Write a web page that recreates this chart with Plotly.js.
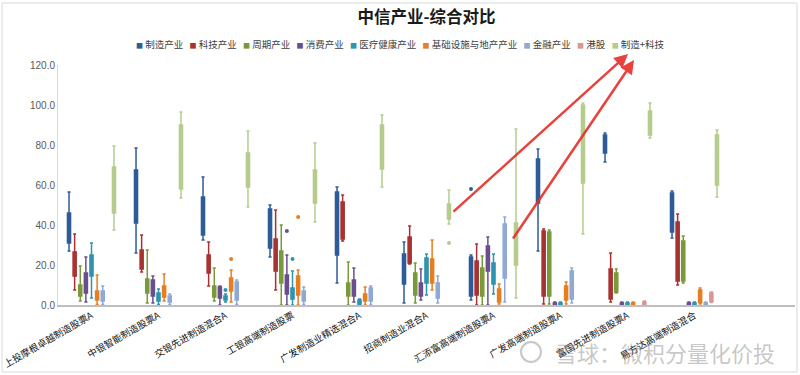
<!DOCTYPE html>
<html>
<head>
<meta charset="utf-8">
<script src="https://cdn.plot.ly/plotly-3.0.1.min.js"></script>
<style>html,body{margin:0;padding:0;background:#fff;}</style>
</head>
<body>
<div id="chart" style="width:800px;height:375px;"></div>
<script>
// Categories (funds)
const funds = [
  '上投摩根卓越制造股票A', '中银智能制造股票A', '交银先进制造混合A', '工银高端制造股票',
  '广发制造业精选混合A', '招商制造业混合A', '汇添富高端制造股票A', '广发高端制造股票A',
  '富国先进制造股票A', '易方达高端制造混合'
];
// Series (industries)
const seriesNames = ['制造产业', '科技产业', '周期产业', '消费产业', '医疗健康产业',
  '基础设施与地产产业', '金融产业', '港股', '制造+科技'];
const seriesColors = ['#2E5C98', '#A83232', '#7A9A3A', '#6B4E8E', '#2E94B0',
  '#E67E22', '#8EA9D6', '#D99694', '#B5CC8E'];

// Box statistics: one row per series, one column per fund (null = not drawn)
const lowerFence = [
  [27, 26, 32.5, 24, 11, 1, 2.5, 27, 71.5, 33.5],
  [7.5, 16.5, 9.5, 7.5, 32, 20.5, 0, 0.5, 1.5, 10],
  [2, 1, 2, 0, 0, 1, 0, 0.5, 6, 11],
  [1.5, 1, 0, 0, 1.5, 2.5, 0, 0, 0, 0],
  [3.5, 0.3, 1.5, 0, 0, 5, 5.5, 0, 0, 0],
  [0.3, 2, 1.5, 0, 0, 7.5, 0.5, 0.5, 0, 0.5],
  [0.2, 0.3, 0.3, 0.3, 0.3, 1, 1.5, 1, null, 0],
  [null, null, null, null, null, null, null, null, 0, 1.3],
  [37.5, 53.5, 49, 41.5, 59, 40.5, 3.5, 35.5, 83.5, 54]
];
const q1 = [
  [31, 41, 35, 28.5, 25, 10.5, 4.5, 51, 76, 36.5],
  [14.5, 18, 16, 17, 33, 21, 5, 4.5, 3, 12],
  [4.5, 6, 4, 11, 4.5, 5, 4.5, 4.5, 6.5, 12],
  [6, 4.5, 3.5, 5.5, 4.5, 4.5, 17, 0.2, 0.2, 0.2],
  [14.5, 2, 2.5, 3, 0.3, 11, 10.5, 0.2, 0.2, 0.2],
  [2.5, 4, 7, 5, 2, 11, 1.5, 2.5, 0.2, 1.3],
  [2, 1.5, 2.5, 2, 2, 3.5, 13.5, 3, null, 0.2],
  [null, null, null, null, null, null, null, null, 0.3, 1.8],
  [46, 58, 59, 51, 68, 43, 20, 61, 85, 60]
];
const median = [
  [37, 51.5, 45, 37, 37.5, 18, 18, 60, 78.5, 46.5],
  [19.5, 21, 19.5, 21, 41.5, 27, 11.5, 23, 10, 25.5],
  [6.5, 8.5, 6, 17.5, 7.5, 9, 11, 22, 11, 20],
  [10, 8, 6, 10, 8, 8, 21.5, 0.5, 0.5, 0.5],
  [19, 3.5, 3.5, 5, 1, 16.5, 15, 0.5, 0.5, 0.5],
  [4.5, 6, 10, 9.5, 4, 16, 4, 5, 0.5, 3.5],
  [4, 2.5, 6, 4.5, 4.5, 7, 22, 8, null, 0.5],
  [null, null, null, null, null, null, null, null, 0.8, 4],
  [58.5, 74, 66, 58.5, 80, 45.5, 27, 80.5, 90, 75]
];
const q3 = [
  [46, 67.5, 54, 48, 56.5, 25.5, 24, 73, 85, 56],
  [26.5, 27.5, 25, 33, 51.5, 34, 22, 37, 18, 41.5],
  [10, 13, 9.5, 27, 11, 16, 18.5, 36.5, 16, 32],
  [16, 12.5, 9, 15, 12.5, 11, 29.5, 1, 1, 1],
  [25, 6, 4.5, 8.5, 2.5, 23.5, 21, 1, 1, 1],
  [7, 9.5, 13.5, 14.5, 5.5, 23, 8, 9.5, 1, 7.5],
  [7, 4.5, 11.5, 7, 8.5, 11, 40.5, 17, null, 1],
  [null, null, null, null, null, null, null, null, 1.5, 6],
  [69, 90, 76, 67.5, 90, 50.5, 41, 100, 97, 85]
];
const upperFence = [
  [56.5, 78.5, 64, 50, 59, 31.5, 25, 78, 86, 57],
  [35.5, 35, 31.5, 47.5, 55, 39.5, 30.5, 38, 26, 45.5],
  [19.5, 27.5, 18.5, 40, 21.5, 21, 24.5, 37.5, 18, 34.5],
  [24, 14.5, 9.5, 25, 18.5, 18, 34, 1.5, 1.5, 1.5],
  [31, 8, 5.5, 17, 3, 25.5, 25.5, 1.5, 1.5, 1.5],
  [15, 15.5, 17.5, 17.5, 9, 32.5, 10.5, 11.5, 1.5, 8.5],
  [9.5, 5.5, 12.5, 9, 9.5, 14.5, 44, 18.5, null, 1.5],
  [null, null, null, null, null, null, null, null, 2, 6.5],
  [79.5, 96.5, 87, 81, 95, 57.5, 88, 101, 101, 87.5]
];
// Outlier points (null = none)
const outliers = [
  [null, null, null, null, null, null, 58, null, null, null],
  [null, null, null, null, null, null, null, null, null, null],
  [null, null, null, null, null, null, null, null, null, null],
  [null, null, null, 37, null, null, null, null, null, null],
  [null, null, 7.5, 23, null, null, null, null, null, null],
  [null, null, 23, 44, null, null, null, null, null, null],
  [null, null, null, null, null, null, null, null, null, null],
  [null, null, null, null, null, null, null, null, null, null],
  [null, null, null, null, null, 31, null, null, null, null]
];

const traces = [];
seriesNames.forEach((name, s) => {
  const idx = funds.map((_, i) => i).filter(i => median[s][i] !== null);
  const pick = arr => idx.map(i => arr[s][i]);
  traces.push({
    type: 'box',
    name: name,
    x: idx.map(i => funds[i]),
    q1: pick(q1),
    median: pick(median),
    q3: pick(q3),
    lowerfence: pick(lowerFence),
    upperfence: pick(upperFence),
    boxpoints: false,
    whiskerwidth: 1,
    line: {color: seriesColors[s], width: 1.5},
    fillcolor: seriesColors[s],
    marker: {color: seriesColors[s]},
    hoverinfo: 'skip'
  });
});
seriesNames.forEach((name, s) => {
  traces.push({
    type: 'scatter',
    mode: 'markers',
    name: name,
    x: funds,
    y: outliers[s],
    marker: {color: seriesColors[s], size: 4},
    hoverinfo: 'skip'
  });
});

const W = 800, H = 375, L = 58, R = 5, T = 65, B = 70;
const pw = W - L - R, ph = H - T - B;
const px = x => (x - L) / pw;
const py = y => (H - B - y) / ph;

// Legend drawn as one line of rich text: coloured square + name
const nb = '\u00a0';
const legendText = seriesNames.map((n, s) =>
  '<span style="color:' + seriesColors[s] + ';font-size:7px">■</span>' + nb + n
).join(nb + nb + nb);

const layout = {
  width: W, height: H,
  margin: {l: L, r: R, t: T, b: B},
  paper_bgcolor: '#ffffff',
  plot_bgcolor: '#ffffff',
  font: {family: '"Noto Sans CJK SC", "Liberation Sans", sans-serif', color: '#404040'},
  title: {
    text: '中信产业-综合对比',
    x: 0.5, xanchor: 'center', xref: 'paper',
    y: 1 - 17 / H, yanchor: 'middle', yref: 'container',
    font: {size: 16.5, color: '#1a1a1a', weight: 'bold'}
  },
  showlegend: false,
  boxmode: 'group',
  boxgap: 0.245,
  boxgroupgap: 0.45,
  scattermode: 'group',
  scattergap: 0.245,
  xaxis: {
    type: 'category',
    categoryorder: 'array', categoryarray: funds,
    range: [-0.5, 10.5],
    tickangle: -30,
    showline: true, linecolor: '#BFBFBF', linewidth: 1.5,
    ticks: '', showgrid: false, zeroline: false,
    tickfont: {size: 9.5, color: '#111111'}
  },
  yaxis: {
    range: [0, 120], dtick: 20, tickformat: '.1f',
    showline: true, linecolor: '#D9D9D9', linewidth: 1,
    ticks: '', showgrid: false, zeroline: false,
    tickfont: {size: 10, color: '#595959', family: '"Liberation Sans", Arial, sans-serif'}
  },
  annotations: [
    {xref: 'paper', yref: 'paper', x: px(400), y: py(44), xanchor: 'center', yanchor: 'middle',
     text: legendText, showarrow: false, font: {size: 9.5, color: '#404040'}},
    {xref: 'paper', yref: 'paper', x: px(628), y: py(54), ax: 452 - 628, ay: 213 - 54,
     text: '', showarrow: true, arrowhead: 2, arrowsize: 1.1, arrowwidth: 2.5,
     arrowcolor: 'rgba(232,45,40,0.9)'},
    {xref: 'paper', yref: 'paper', x: px(634), y: py(60), ax: 512 - 634, ay: 240 - 60,
     text: '', showarrow: true, arrowhead: 2, arrowsize: 1.1, arrowwidth: 2.5,
     arrowcolor: 'rgba(232,45,40,0.9)'},
    {xref: 'paper', yref: 'paper', x: px(665), y: py(352), xanchor: 'center', yanchor: 'middle',
     text: '雪球：微积分量化价投', showarrow: false,
     font: {size: 22, color: 'rgba(130,130,130,0.45)'}}
  ],
  shapes: [
    {type: 'circle', xref: 'paper', yref: 'paper', x0: px(521), x1: px(541), y0: py(362), y1: py(342),
     line: {color: 'rgba(130,130,130,0.45)', width: 2}},
    {type: 'rect', xref: 'paper', yref: 'paper', x0: px(2), x1: px(797), y0: py(372), y1: py(3),
     line: {color: '#D9D9D9', width: 1}, layer: 'below'}
  ]
};

Plotly.newPlot('chart', traces, layout, {staticPlot: true, displayModeBar: false});
</script>
</body>
</html>
